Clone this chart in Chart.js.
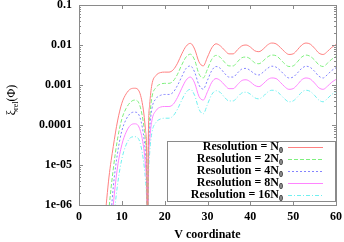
<!DOCTYPE html>
<html>
<head>
<meta charset="utf-8">
<script src="https://cdn.jsdelivr.net/npm/chart.js@4.4.1/dist/chart.umd.min.js"></script>
<style>
  html, body { margin: 0; padding: 0; background: #fff; }
</style>
</head>
<body>
<canvas id="chart" width="344" height="242"></canvas>
<script>
// V coordinate samples (shared by every series)
const vCoord = [6, 7, 8, 9, 10, 11, 12, 13, 14, 15, 15.5, 15.8, 16, 16.2, 16.5,
  17, 18, 19, 20, 21, 22, 23, 24, 25, 26, 27, 28, 29, 30, 31, 32, 33, 34, 35, 36,
  37, 38, 39, 40, 41, 42, 43, 44, 45, 46, 47, 48, 49, 50, 51, 52, 53, 54, 55, 56,
  57, 58, 59, 60];

// xi_rel(Phi)
const resN0 = [4.0e-7, 5.0e-6, 2.9e-5, 1.26e-4, 3.5e-4, 6.0e-4, 7.9e-4, 8.3e-4, 7.1e-4, 2.5e-4,
  7.9e-5, 2.0e-5, 1e-7, 6.3e-5, 3.2e-4,
  1.0e-3, 1.74e-3, 2.04e-3, 2.1e-3, 2.1e-3, 2.4e-3, 3.5e-3, 6.0e-3, 9.3e-3, 0.011,
  7.9e-3, 3.8e-3, 3.0e-3, 5.0e-3, 8.5e-3, 0.0107, 9.5e-3, 7.4e-3, 6.0e-3, 6.0e-3,
  7.6e-3, 9.5e-3, 0.01, 8.9e-3, 7.2e-3, 6.8e-3, 7.9e-3, 0.01, 0.0112, 0.0107,
  8.7e-3, 6.8e-3, 5.8e-3, 6.0e-3, 7.6e-3, 0.01, 0.0112, 0.0105, 8.3e-3, 6.3e-3,
  5.8e-3, 6.9e-3, 8.7e-3, 0.0102];
const res2N0 = [3e-8, 7.9e-7, 7.9e-6, 4.5e-5, 1.41e-4, 2.6e-4, 3.7e-4, 4.2e-4, 3.5e-4, 1.2e-4,
  4.0e-5, 1.0e-5, 1e-7, 3.2e-5, 1.5e-4,
  4.8e-4, 8.7e-4, 1.05e-3, 1.1e-3, 1.1e-3, 1.26e-3, 1.86e-3, 3.2e-3, 5.0e-3, 5.9e-3,
  4.2e-3, 1.9e-3, 1.5e-3, 2.5e-3, 4.4e-3, 5.5e-3, 4.9e-3, 3.7e-3, 3.0e-3, 3.0e-3,
  3.8e-3, 4.8e-3, 5.0e-3, 4.5e-3, 3.6e-3, 3.4e-3, 4.0e-3, 5.0e-3, 5.6e-3, 5.4e-3,
  4.4e-3, 3.4e-3, 2.9e-3, 3.0e-3, 3.8e-3, 5.0e-3, 5.6e-3, 5.2e-3, 4.2e-3, 3.2e-3,
  2.9e-3, 3.5e-3, 4.4e-3, 5.1e-3];
const res4N0 = [1e-8, 1.26e-7, 2.8e-6, 2.0e-5, 7.1e-5, 1.38e-4, 1.95e-4, 2.1e-4, 1.78e-4, 6.3e-5,
  2.0e-5, 5.0e-6, 1e-7, 1.6e-5, 7.9e-5,
  2.5e-4, 4.6e-4, 5.5e-4, 5.8e-4, 5.8e-4, 6.6e-4, 9.8e-4, 1.62e-3, 2.6e-3, 3.0e-3,
  2.1e-3, 1.0e-3, 7.9e-4, 1.32e-3, 2.3e-3, 2.9e-3, 2.6e-3, 1.95e-3, 1.58e-3, 1.58e-3,
  2.0e-3, 2.5e-3, 2.6e-3, 2.3e-3, 1.9e-3, 1.78e-3, 2.1e-3, 2.6e-3, 2.95e-3, 2.8e-3,
  2.3e-3, 1.78e-3, 1.5e-3, 1.58e-3, 2.0e-3, 2.6e-3, 2.95e-3, 2.75e-3, 2.2e-3, 1.66e-3,
  1.5e-3, 1.82e-3, 2.3e-3, 2.7e-3];
const res8N0 = [1e-8, 5e-8, 1.0e-6, 8.9e-6, 3.2e-5, 6.6e-5, 9.8e-5, 1.07e-4, 8.9e-5, 3.2e-5,
  1.0e-5, 2.5e-6, 1e-7, 7.9e-6, 4.0e-5,
  1.26e-4, 2.3e-4, 2.8e-4, 2.9e-4, 2.9e-4, 3.3e-4, 4.9e-4, 8.3e-4, 1.32e-3, 1.58e-3,
  1.12e-3, 5.2e-4, 4.2e-4, 6.8e-4, 1.17e-3, 1.45e-3, 1.29e-3, 1.0e-3, 8.1e-4, 8.1e-4,
  1.02e-3, 1.29e-3, 1.35e-3, 1.2e-3, 9.8e-4, 9.1e-4, 1.07e-3, 1.35e-3, 1.5e-3, 1.45e-3,
  1.17e-3, 9.1e-4, 7.8e-4, 8.1e-4, 1.02e-3, 1.35e-3, 1.5e-3, 1.41e-3, 1.12e-3, 8.5e-4,
  7.8e-4, 9.3e-4, 1.17e-3, 1.38e-3];
const res16N0 = [1e-8, 1e-8, 3.2e-7, 3.2e-6, 1.41e-5, 3.2e-5, 4.8e-5, 5.1e-5, 4.3e-5, 1.41e-5,
  4.5e-6, 1.26e-6, 1e-7, 4.0e-6, 2.0e-5,
  6.3e-5, 1.17e-4, 1.41e-4, 1.48e-4, 1.48e-4, 1.7e-4, 2.5e-4, 4.2e-4, 6.6e-4, 7.8e-4,
  5.5e-4, 2.5e-4, 1.9e-4, 3.3e-4, 5.8e-4, 7.2e-4, 6.5e-4, 4.9e-4, 4.0e-4, 4.0e-4,
  5.0e-4, 6.3e-4, 6.6e-4, 5.9e-4, 4.8e-4, 4.5e-4, 5.2e-4, 6.6e-4, 7.4e-4, 7.1e-4,
  5.8e-4, 4.5e-4, 3.8e-4, 4.0e-4, 5.0e-4, 6.6e-4, 7.4e-4, 6.9e-4, 5.5e-4, 4.2e-4,
  3.8e-4, 4.6e-4, 5.8e-4, 6.8e-4];

const seriesLabels = ['Resolution = N', 'Resolution = 2N', 'Resolution = 4N',
  'Resolution = 8N', 'Resolution = 16N'];
const xTicks = [0, 10, 20, 30, 40, 50, 60];
const yTicks = [1e-6, 1e-5, 1e-4, 1e-3, 1e-2, 1e-1];
const yTickLabels = ['1e-06', '1e-05', '0.0001', '0.001', '0.01', '0.1'];

const seriesValues = [resN0, res2N0, res4N0, res8N0, res16N0];
const colors = ['#ff8080', '#7ef07e', '#8484ff', '#ff84ff', '#70f0f0'];
const dashes = [[], [4, 2], [2, 2], [], [4, 2, 1, 2]];

const serif = "'Liberation Serif', 'DejaVu Serif', serif";
const frameColor = '#8a8a8a';

// horizontal legend sample, dashes laid out as 1px tall rects
function sampleLine(ctx, x0, x1, y, color, dash) {
  ctx.fillStyle = color;
  if (!dash.length) {
    ctx.fillRect(x0, y, x1 - x0, 1);
    return;
  }
  let x = x0;
  let k = 0;
  while (x < x1) {
    const len = Math.min(dash[k % dash.length], x1 - x);
    if (k % 2 === 0) ctx.fillRect(x, y, len, 1);
    x += dash[k % dash.length];
    k++;
  }
}

// frame, inward ticks, boxed legend and the y title, gnuplot style
const gnuplotDecor = {
  id: 'gnuplotDecor',
  afterDatasetsDraw(chart) {
    const { ctx, chartArea: a, scales } = chart;
    const xs = scales.x;
    const ys = scales.y;
    ctx.save();
    ctx.strokeStyle = frameColor;
    ctx.lineWidth = 1;
    ctx.setLineDash([]);
    ctx.beginPath();
    for (const v of xTicks) {
      const px = Math.round(xs.getPixelForValue(v)) + 0.5;
      ctx.moveTo(px, a.bottom); ctx.lineTo(px, a.bottom - 4);
      ctx.moveTo(px, a.top); ctx.lineTo(px, a.top + 4);
    }
    for (const v of yTicks) {
      const py = Math.round(ys.getPixelForValue(v)) + 0.5;
      ctx.moveTo(a.left, py); ctx.lineTo(a.left + 4, py);
      ctx.moveTo(a.right, py); ctx.lineTo(a.right - 4, py);
    }
    for (let i = 0; i < yTicks.length - 1; i++) {
      for (let m = 2; m <= 9; m++) {
        const py = Math.round(ys.getPixelForValue(yTicks[i] * m)) + 0.5;
        ctx.moveTo(a.left, py); ctx.lineTo(a.left + 2, py);
        ctx.moveTo(a.right, py); ctx.lineTo(a.right - 2, py);
      }
    }
    ctx.stroke();
    ctx.strokeRect(Math.round(a.left) + 0.5, Math.round(a.top) + 0.5,
      Math.round(a.right - a.left), Math.round(a.bottom - a.top));

    // legend box
    const box = { x: 167.5, y: 141.5, w: 168, h: 60 };
    ctx.fillStyle = '#fff';
    ctx.fillRect(box.x, box.y, box.w, box.h);
    ctx.strokeRect(box.x, box.y, box.w, box.h);
    const rowY = [147, 159, 171, 183, 195];
    seriesLabels.forEach((label, i) => {
      const y = rowY[i];
      ctx.fillStyle = '#000';
      ctx.textBaseline = 'middle';
      ctx.font = 'bold 8px ' + serif;
      ctx.textAlign = 'right';
      const subW = ctx.measureText('0').width;
      ctx.fillText('0', 283, y + 4);
      ctx.font = 'bold 12px ' + serif;
      ctx.fillText(label, 283 - subW, y);
      sampleLine(ctx, 288, 323, y, colors[i], dashes[i]);
    });

    // y axis title: xi_rel(Phi)
    ctx.translate(12, 100);
    ctx.rotate(-Math.PI / 2);
    ctx.fillStyle = '#000';
    ctx.textAlign = 'left';
    ctx.textBaseline = 'middle';
    ctx.font = '12px ' + serif;
    const w1 = ctx.measureText('\u03be').width;
    const w3 = ctx.measureText('(\u03a6)').width;
    ctx.font = '8px ' + serif;
    const w2 = ctx.measureText('rel').width;
    const x0 = -(w1 + w2 + w3) / 2;
    ctx.font = '12px ' + serif;
    ctx.fillText('\u03be', x0, 0);
    ctx.font = '8px ' + serif;
    ctx.fillText('rel', x0 + w1, 4);
    ctx.font = '12px ' + serif;
    ctx.fillText('(\u03a6)', x0 + w1 + w2, 0);
    ctx.restore();
  },
};

const datasets = seriesValues.map((values, i) => ({
  label: seriesLabels[i],
  data: vCoord.map((v, j) => ({ x: v, y: values[j] })),
  borderColor: colors[i],
  borderDash: dashes[i],
  borderWidth: 1,
  pointRadius: 0,
  fill: false,
  cubicInterpolationMode: 'monotone',
}));

new Chart(document.getElementById('chart'), {
  type: 'line',
  data: { datasets },
  options: {
    responsive: false,
    animation: false,
    devicePixelRatio: 1,
    layout: { padding: { left: 0, right: 8, top: 5, bottom: 0 } },
    plugins: { legend: { display: false }, tooltip: { enabled: false } },
    scales: {
      x: {
        type: 'linear',
        min: 0,
        max: 60,
        grid: { display: false, drawTicks: false },
        border: { display: false },
        afterBuildTicks: (scale) => { scale.ticks = xTicks.map((v) => ({ value: v })); },
        afterFit: (scale) => {
          scale.height = 37;
          scale.paddingLeft = 0;
          scale.paddingRight = 0;
        },
        ticks: {
          padding: 5,
          maxRotation: 0,
          color: '#000',
          font: { family: serif, size: 12, weight: 'bold' },
        },
        title: {
          display: true,
          text: 'V coordinate',
          color: '#000',
          padding: { top: 0, bottom: 0 },
          font: { family: serif, size: 12, weight: 'bold' },
        },
      },
      y: {
        type: 'logarithmic',
        min: 1e-6,
        max: 0.1,
        grid: { display: false, drawTicks: false },
        border: { display: false },
        afterBuildTicks: (scale) => { scale.ticks = yTicks.map((v) => ({ value: v })); },
        afterFit: (scale) => {
          scale.width = 79;
          scale.paddingTop = 0;
          scale.paddingBottom = 0;
        },
        ticks: {
          padding: 7,
          color: '#000',
          font: { family: serif, size: 12, weight: 'bold' },
          callback: (value, index) => yTickLabels[index],
        },
      },
    },
  },
  plugins: [gnuplotDecor],
});
</script>
</body>
</html>
